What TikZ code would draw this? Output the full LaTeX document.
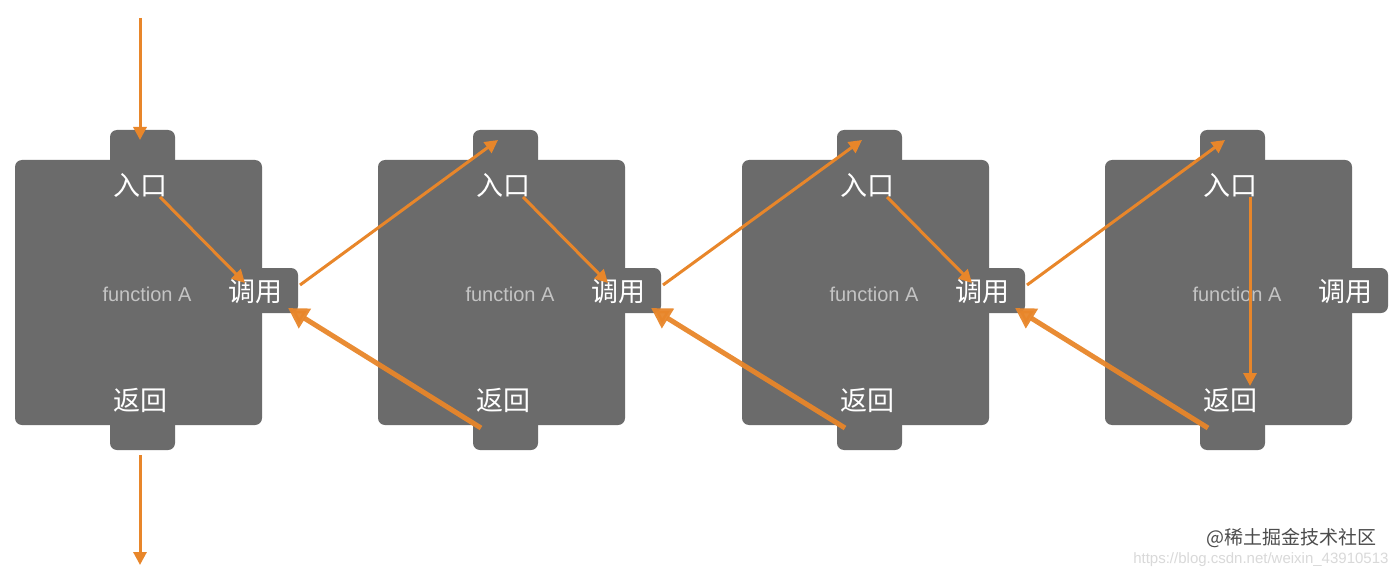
\documentclass[tikz,border=0pt]{standalone}
\usepackage{fontspec}
\newfontfamily\cjk{Noto Sans CJK SC}
\setmainfont{Liberation Sans}
\usetikzlibrary{arrows.meta}
\definecolor{boxg}{HTML}{6B6B6B}
\definecolor{org}{HTML}{E8862A}
\tikzset{
  body/.style={fill=boxg, rounded corners=7pt, draw=none},
  lab/.style={text=white, font=\cjk\fontsize{27}{27}\selectfont},
  fn/.style={text=white!60!boxg, font=\fontsize{20}{20}\selectfont},
  thin/.style={org, line width=3pt, -{Triangle[length=13pt,width=13pt]}},
  thick/.style={org, line width=5pt, -{Triangle[length=20pt,width=22pt]}, opacity=0.95},
}
\begin{document}
\begin{tikzpicture}[x=1pt,y=-1pt]
\useasboundingbox[fill=white] (0,0) rectangle (1396,572);
\foreach \i/\dx in {1/0,2/363,3/727,4/1090}{
  \begin{scope}[xshift=\dx]
  \fill[body] (110,130) rectangle (175,175);
  \fill[body] (110,410) rectangle (175,450);
  \fill[body] (240,268) rectangle (298,313);
  \fill[body] (15,160) rectangle (262,425);
  \node[lab] (in\i) at (140,185) {入口};
  \node[lab] (call\i) at (255,292) {调用};
  \node[lab] (ret\i) at (140,400) {返回};
  \node[fn] (fn\i) at (147,294) {function A};
  \coordinate (top\i) at (140,140);
  \coordinate (inS\i) at (160,197);
  \coordinate (callE\i) at (245,283);
  \coordinate (callR\i) at (300,285);
  \coordinate (callT\i) at (288,308);
  \coordinate (retS\i) at (118,428);
  \coordinate (retT\i) at (160,386);
  \end{scope}
}
\coordinate (src) at (140,18);
\coordinate (snk) at (140,565);
\coordinate (bot1) at (140,455);
\draw[thin] (src) -- (top1);
\draw[thin] (bot1) -- (snk);
\foreach \i/\j in {1/2,2/3,3/4}{
  \draw[thin] (inS\i) -- (callE\i);
  \draw[thin] (callR\i) -- ([xshift=-5pt]top\j);
  \draw[thick] (retS\j) -- (callT\i);
}
\draw[thin] (inS4) -- (retT4);
\node[font=\fontsize{15}{15}\selectfont, text=black!15, anchor=east] (url) at (1392,560) {https://blog.csdn.net/weixin\_43910513};
\node[font=\cjk\fontsize{19}{19}\selectfont, text=black!70, anchor=east] (wm) at (1380,538) {@稀土掘金技术社区};
\end{tikzpicture}
\end{document}
